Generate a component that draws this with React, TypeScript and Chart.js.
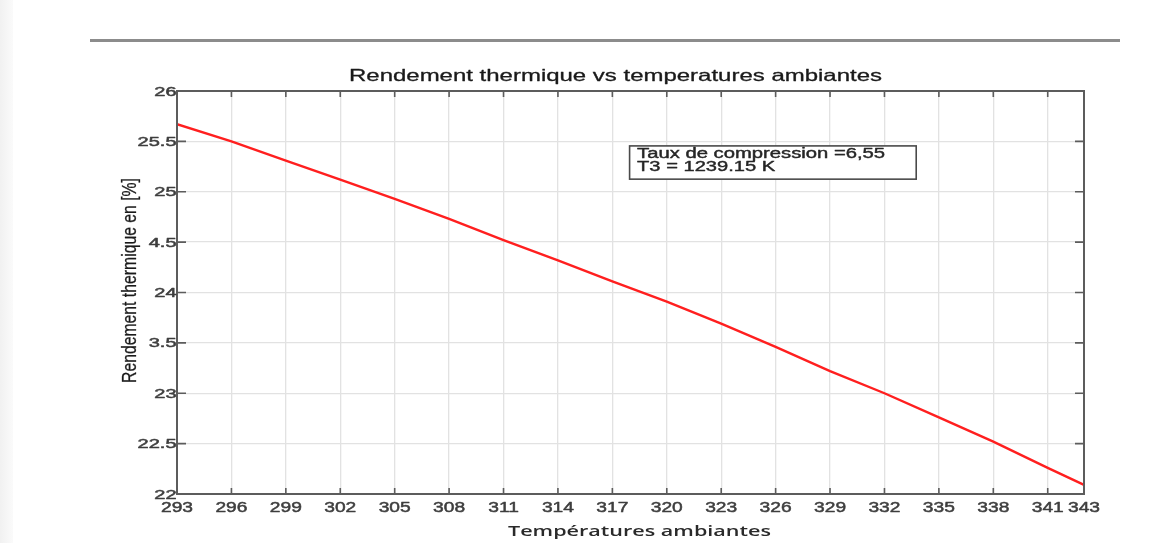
import React, { useEffect, useRef } from 'react';
import { Chart, registerables } from 'chart.js';

Chart.register(...registerables);

// ---- data ----
const temperatures = [293, 296, 299, 302, 305, 308, 311, 314, 317, 320, 323, 326, 329, 332, 335, 338, 341, 343];
const efficiency = [25.67, 25.5, 25.31, 25.12, 24.93, 24.73, 24.52, 24.32, 24.11, 23.91, 23.69, 23.46, 23.22, 23.0, 22.76, 22.52, 22.26, 22.09];
const xTickValues = [293, 296, 299, 302, 305, 308, 311, 314, 317, 320, 323, 326, 329, 332, 335, 338, 341, 343];
const xTickLabels = ['293', '296', '299', '302', '305', '308', '311', '314', '317', '320', '323', '326', '329', '332', '335', '338', '341', '343'];
const yTickValues = [22, 22.5, 23, 23.5, 24, 24.5, 25, 25.5, 26];
const yTickLabels = ['22', '22.5', '23', '3.5', '24', '4.5', '25', '25.5', '26'];
const chartTitle = 'Rendement thermique vs temperatures ambiantes';
const xAxisTitle = 'Températures ambiantes';
const yAxisTitle = 'Rendement thermique en [%]';
const annotationLines = ['Taux de compression =6,55', 'T3 = 1239.15 K'];

type Align = 'left' | 'right' | 'center';

function drawText(
  ctx: CanvasRenderingContext2D,
  text: string,
  x: number,
  y: number,
  font: string,
  color: string,
  align: Align,
  sx: number,
  sy = 1,
  rotate = 0,
  baseline: CanvasTextBaseline = 'alphabetic',
  weight = 0
) {
  ctx.save();
  ctx.translate(x, y);
  if (rotate) ctx.rotate(rotate);
  ctx.scale(sx, sy);
  ctx.font = font;
  ctx.fillStyle = color;
  ctx.textAlign = align;
  ctx.textBaseline = baseline;
  ctx.fillText(text, 0, 0);
  if (weight > 0) {
    ctx.strokeStyle = color;
    ctx.lineWidth = weight;
    ctx.lineJoin = 'round';
    ctx.strokeText(text, 0, 0);
  }
  ctx.restore();
}

function fitScale(ctx: CanvasRenderingContext2D, text: string, font: string, target: number) {
  ctx.save();
  ctx.font = font;
  const w = ctx.measureText(text).width;
  ctx.restore();
  return w > 0 ? target / w : 1;
}

const decorPlugin = {
  id: 'decor',
  beforeDraw(chart: any) {
    const ctx: CanvasRenderingContext2D = chart.ctx;
    ctx.save();
    ctx.fillStyle = '#ffffff';
    ctx.fillRect(0, 0, chart.width, chart.height);
    const g = ctx.createLinearGradient(0, 0, 14, 0);
    g.addColorStop(0, '#f1f1f1');
    g.addColorStop(1, '#fbfbfb');
    ctx.fillStyle = g;
    ctx.fillRect(0, 0, 13, chart.height);
    // document rule at top
    ctx.strokeStyle = '#8c8c8c';
    ctx.lineWidth = 3;
    ctx.beginPath();
    ctx.moveTo(90, 40.5);
    ctx.lineTo(1120, 40.5);
    ctx.stroke();
    ctx.restore();
  },
  afterDraw(chart: any) {
    const ctx: CanvasRenderingContext2D = chart.ctx;
    const { left, right, top, bottom } = chart.chartArea;
    const xs = chart.scales.x;
    const ys = chart.scales.y;
    const axisColor = '#5c5c5c';

    ctx.save();
    // frame
    ctx.strokeStyle = axisColor;
    ctx.lineWidth = 2;
    ctx.strokeRect(left, top, right - left, bottom - top);
    // inner ticks
    ctx.lineWidth = 1.6;
    ctx.beginPath();
    xTickValues.forEach((v) => {
      const px = xs.getPixelForValue(v);
      ctx.moveTo(px, bottom);
      ctx.lineTo(px, bottom - 6);
      ctx.moveTo(px, top);
      ctx.lineTo(px, top + 6);
    });
    yTickValues.forEach((v) => {
      const py = ys.getPixelForValue(v);
      ctx.moveTo(left, py);
      ctx.lineTo(left + 9, py);
      ctx.moveTo(right, py);
      ctx.lineTo(right - 9, py);
    });
    ctx.stroke();
    ctx.restore();

    const tickColor = '#3e3e3e';
    // x tick labels
    xTickValues.forEach((v, i) => {
      const px = xs.getPixelForValue(v);
      drawText(ctx, xTickLabels[i], px, bottom + 17.5, '15px "Liberation Sans", Arial, sans-serif', tickColor, 'center', 1.28, 1, 0, 'alphabetic', 0.5);
    });
    // y tick labels
    yTickValues.forEach((v, i) => {
      const py = ys.getPixelForValue(v);
      drawText(ctx, yTickLabels[i], left - 0.5, py + 4.5, '12.5px "Liberation Sans", Arial, sans-serif', tickColor, 'right', 1.6, 1, 0, 'alphabetic', 0.5);
    });

    // title
    const titleFont = '16.5px "Liberation Sans", Arial, sans-serif';
    drawText(ctx, chartTitle, 615.5, 81, titleFont, '#1a1a1a', 'center', fitScale(ctx, chartTitle, titleFont, 533), 1, 0, 'alphabetic', 0.3);

    // x axis title
    const xtFont = '600 15px "Open Sans", "Liberation Sans", sans-serif';
    drawText(ctx, xAxisTitle, 639.5, 536, xtFont, '#2a2a2a', 'center', fitScale(ctx, xAxisTitle, xtFont, 263));

    // y axis title (rotated)
    const ytFont = '14px "Liberation Sans Narrow", "Liberation Sans", Arial, sans-serif';
    drawText(ctx, yAxisTitle, 130, 280.5, ytFont, '#1a1a1a', 'center', fitScale(ctx, yAxisTitle, ytFont, 205), 1.45, -Math.PI / 2, 'middle', 0.2);

    // annotation box anchored in data coordinates
    const bx0 = xs.getPixelForValue(317.95);
    const bx1 = xs.getPixelForValue(333.75);
    const by0 = ys.getPixelForValue(25.455);
    const by1 = ys.getPixelForValue(25.125);
    ctx.save();
    ctx.fillStyle = '#ffffff';
    ctx.fillRect(bx0, by0, bx1 - bx0, by1 - by0);
    ctx.strokeStyle = '#4a4a4a';
    ctx.lineWidth = 1.6;
    ctx.strokeRect(bx0, by0, bx1 - bx0, by1 - by0);
    ctx.restore();
    const annFont = '14px "Liberation Sans", Arial, sans-serif';
    drawText(ctx, annotationLines[0], bx0 + 7.5, by0 + 12.5, annFont, '#262626', 'left', fitScale(ctx, annotationLines[0], annFont, 248), 1, 0, 'alphabetic', 0.4);
    drawText(ctx, annotationLines[1], bx0 + 7.5, by0 + 25.5, annFont, '#262626', 'left', fitScale(ctx, annotationLines[1], annFont, 138), 1, 0, 'alphabetic', 0.4);
  },
};

export default function App() {
  const canvasRef = useRef<HTMLCanvasElement | null>(null);

  useEffect(() => {
    const canvas = canvasRef.current;
    if (!canvas) return;
    const chart = new Chart(canvas, {
      type: 'scatter',
      data: {
        datasets: [
          {
            data: temperatures.map((t, i) => ({ x: t, y: efficiency[i] })),
            showLine: true,
            borderColor: '#ff1f1f',
            backgroundColor: '#ff1f1f',
            borderWidth: 2.4,
            pointRadius: 0,
            tension: 0,
          },
        ],
      },
      options: {
        responsive: false,
        animation: false,
        devicePixelRatio: 1,
        layout: { padding: { left: 177, right: 73, top: 91, bottom: 49 } },
        plugins: {
          legend: { display: false },
          tooltip: { enabled: false },
          title: { display: false },
        },
        scales: {
          x: {
            type: 'linear',
            min: 293,
            max: 343,
            afterBuildTicks: (s: any) => {
              s.ticks = xTickValues.map((v) => ({ value: v }));
            },
            afterFit: (s: any) => {
              s.height = 0;
            },
            ticks: { display: false },
            grid: { color: '#e2e2e2', lineWidth: 1.3, drawTicks: false },
            border: { display: false },
          },
          y: {
            type: 'linear',
            min: 22,
            max: 26,
            afterBuildTicks: (s: any) => {
              s.ticks = yTickValues.map((v) => ({ value: v }));
            },
            afterFit: (s: any) => {
              s.width = 0;
            },
            ticks: { display: false },
            grid: { color: '#e2e2e2', lineWidth: 1.3, drawTicks: false },
            border: { display: false },
          },
        },
      },
      plugins: [decorPlugin],
    });
    return () => chart.destroy();
  }, []);

  return (
    <div style={{ position: 'fixed', left: 0, top: 0, width: 1157, height: 543, background: '#fff' }}>
      <canvas ref={canvasRef} width={1157} height={543} style={{ width: 1157, height: 543, display: 'block' }} />
    </div>
  );
}
